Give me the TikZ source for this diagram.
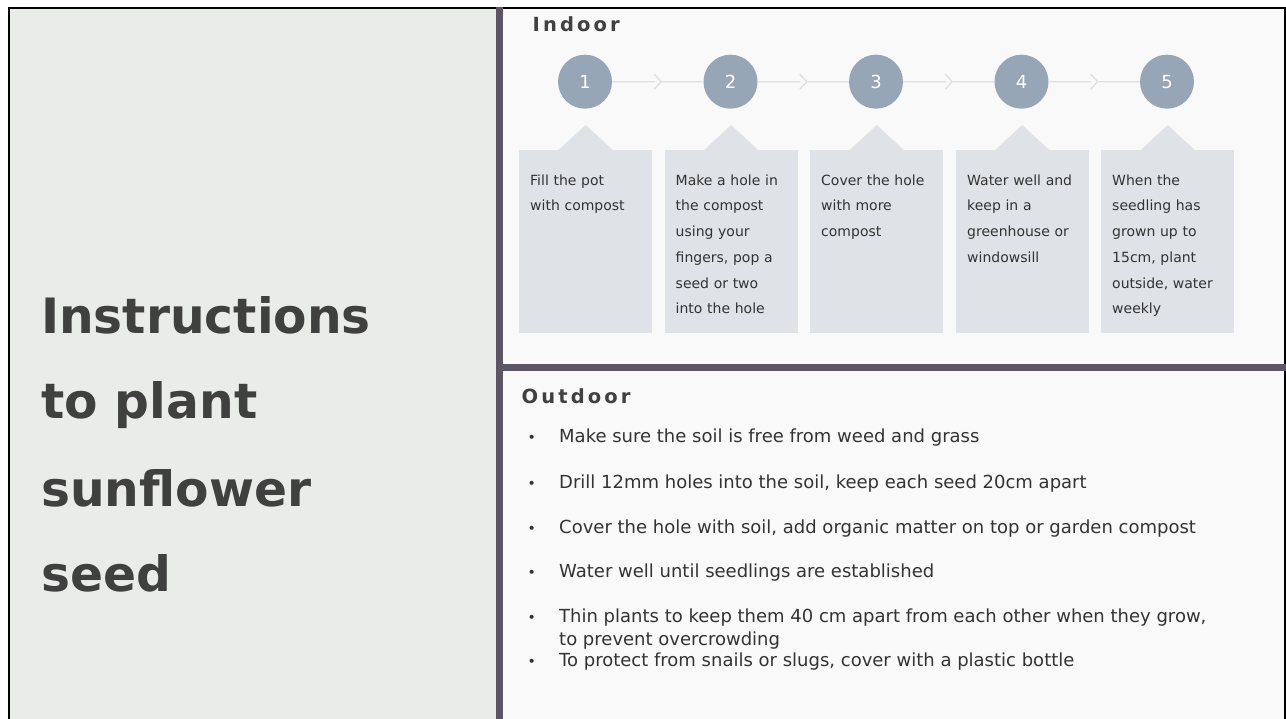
\documentclass[tikz,border=0pt]{standalone}
\usepackage{fontspec}
\usetikzlibrary{calc}
\setmainfont{DejaVu Sans}
\newfontfamily\headfont[LetterSpace=16]{DejaVu Sans}
\definecolor{leftbg}{HTML}{EAECE9}
\definecolor{rightbg}{HTML}{F9F9F9}
\definecolor{divider}{HTML}{5C5566}
\definecolor{circ}{HTML}{97A6B6}
\definecolor{boxbg}{HTML}{DFE2E6}
\definecolor{conn}{HTML}{DDE0E4}
\definecolor{titletext}{HTML}{404040}
\definecolor{bodytext}{HTML}{333333}
\tikzset{
  heading/.style={font=\headfont\bfseries\fontsize{19.5}{22}\selectfont, text=titletext, inner sep=0, anchor=base west},
  bigtitle/.style={font=\bfseries\fontsize{48.7}{56}\selectfont, text=titletext, inner sep=0, anchor=base west},
  stepcirc/.style={circle, fill=circ, minimum size=54pt, inner sep=0, text=white, font=\fontsize{18}{20}\selectfont},
  conline/.style={draw=conn, line width=1.3pt},
  stepbox/.style={rectangle, fill=boxbg, minimum width=133pt, minimum height=182.7pt, inner sep=0, anchor=north west},
  boxtext/.style={text width=125pt, align=left, font=\fontsize{14}{25.7}\selectfont, text=bodytext, inner sep=0, anchor=north west},
  bullettext/.style={font=\fontsize{18}{23.7}\selectfont, text=bodytext, inner sep=0, anchor=base west, align=left},
  bulletdot/.style={font=\fontsize{14}{16}\selectfont, text=bodytext, inner sep=0, anchor=base},
}
\begin{document}
\begin{tikzpicture}[x=1pt,y=-1pt]
\useasboundingbox (0,0) rectangle (1286,719);
\fill[white] (0,0) rectangle (1286,719);
% panels
\fill[leftbg] (9,8) rectangle (496,719);
\fill[rightbg] (503,8) rectangle (1285,719);
\draw[black, line width=1.8pt] (9,719) -- (9,8) -- (1285,8) -- (1285,719);
\fill[divider] (496,7) rectangle (503,719);
\fill[divider] (503,364) rectangle (1285.5,371);

% left title
\node[bigtitle] (ti1) at (41,333.3) {Instructions};
\node[bigtitle] (ti2) at (41,418.3) {to plant};
\node[bigtitle] (ti3) at (41,506) {sunflower};
\node[bigtitle] (ti4) at (41,591.7) {seed};

% Indoor
\node[heading] (indoor) at (532.5,31.7) {Indoor};

\foreach \i/\x in {1/585,2/730.5,3/876,4/1021.5,5/1167}{
  \node[stepcirc] (c\i) at (\x,81.7) {\i};
}
\foreach \i/\j in {1/2,2/3,3/4,4/5}{
  \coordinate (m\i) at ($(c\i)!0.5!(c\j)$);
  \draw[conline] (c\i) -- ([xshift=-3pt]m\i);
  \draw[conline] ([xshift=4.5pt]m\i) -- (c\j);
  \draw[conline, line join=miter] ([shift={(-3.5pt,7.5pt)}]m\i) -- ([xshift=3.5pt]m\i) -- ([shift={(-3.5pt,-7.5pt)}]m\i);
}

\foreach \i/\x in {1/519,2/664.5,3/810,4/955.5,5/1101}{
  \node[stepbox] (b\i) at (\x,150) {};
  \fill[boxbg] ([xshift=-27pt]b\i.north) -- ([yshift=25pt]b\i.north) -- ([xshift=27pt]b\i.north) -- cycle;
}

\node[boxtext] (s1) at (530,174.4) {Fill the pot\\with compost};
\node[boxtext] (s2) at (675.5,174.4) {Make a hole in\\the compost\\using your\\fingers, pop a\\seed or two\\into the hole};
\node[boxtext] (s3) at (821,174.4) {Cover the hole\\with more\\compost};
\node[boxtext] (s4) at (967,174.4) {Water well and\\keep in a\\greenhouse or\\windowsill};
\node[boxtext] (s5) at (1112,174.4) {When the\\seedling has\\grown up to\\15cm, plant\\outside, water\\weekly};

% Outdoor
\node[heading] (outdoor) at (521.5,403) {Outdoor};

\foreach \i/\y in {1/442.7,2/488,3/533,4/577,5/622,6/666.7}{
  \node[bulletdot] (d\i) at (531.7,\y) {•};
}
\node[bullettext] (o1) at (559,442.7) {Make sure the soil is free from weed and grass};
\node[bullettext] (o2) at (559,488) {Drill 12mm holes into the soil, keep each seed 20cm apart};
\node[bullettext] (o3) at (559,533) {Cover the hole with soil, add organic matter on top or garden compost};
\node[bullettext] (o4) at (559,577) {Water well until seedlings are established};
\node[bullettext, anchor=north west] (o5) at (559,608.3) {Thin plants to keep them 40 cm apart from each other when they grow,\\to prevent overcrowding};
\node[bullettext] (o6) at (559,666.7) {To protect from snails or slugs, cover with a plastic bottle};
\end{tikzpicture}
\end{document}
